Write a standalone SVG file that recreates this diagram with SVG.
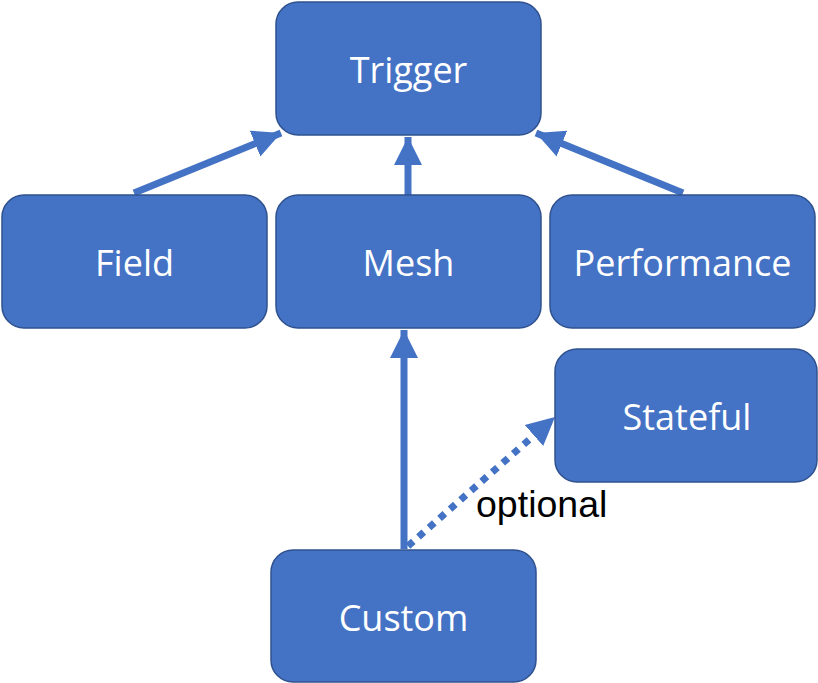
<svg xmlns="http://www.w3.org/2000/svg" width="818" height="683" viewBox="0 0 818 683">
<style>
.box{fill:#4472C4;stroke:#2F528F;stroke-width:1.5}
.lbl{font-family:"Open Sans","Noto Sans",sans-serif;font-size:36px;fill:#fff;text-anchor:middle}
.conn{stroke:#4472C4;stroke-width:7;fill:none}
.dot{stroke:#4472C4;stroke-width:7;fill:none;stroke-dasharray:7 7}
.note{font-family:"Liberation Sans",Arial,sans-serif;font-size:37.5px;fill:#000}
</style>
<defs>
<marker id="ah" viewBox="0 0 10 10" refX="10" refY="5" markerWidth="4" markerHeight="4.2" orient="auto" markerUnits="strokeWidth">
<path d="M0,0 L10,5 L0,10 z" fill="#4472C4"/>
</marker>
</defs>
<rect width="818" height="683" fill="#fff"/>
<g id="connectors">
<line class="conn" x1="134" y1="193" x2="281" y2="133" marker-end="url(#ah)"/>
<line class="conn" x1="408" y1="195" x2="408" y2="137" marker-end="url(#ah)"/>
<line class="conn" x1="683" y1="193" x2="536" y2="133" marker-end="url(#ah)"/>
<line class="conn" x1="404" y1="549" x2="404" y2="330" marker-end="url(#ah)"/>
<line class="dot" x1="408" y1="546" x2="555" y2="417" marker-end="url(#ah)"/>
<text class="note" x="476" y="517">optional</text>
</g>
<g id="trigger"><rect class="box" x="276" y="2" width="265" height="133" rx="22"/><text class="lbl" x="408.5" y="83">Trigger</text></g>
<g id="field"><rect class="box" x="2" y="195" width="265" height="133" rx="22"/><text class="lbl" x="134.5" y="276">Field</text></g>
<g id="mesh"><rect class="box" x="276" y="195" width="265" height="133" rx="22"/><text class="lbl" x="408.5" y="276">Mesh</text></g>
<g id="performance"><rect class="box" x="550" y="195" width="265" height="133" rx="22"/><text class="lbl" x="682.5" y="276">Performance</text></g>
<g id="stateful"><rect class="box" x="555" y="349" width="262" height="133" rx="22"/><text class="lbl" x="687" y="430">Stateful</text></g>
<g id="custom"><rect class="box" x="271" y="550" width="265" height="132" rx="22"/><text class="lbl" x="403.5" y="631">Custom</text></g>
</svg>
